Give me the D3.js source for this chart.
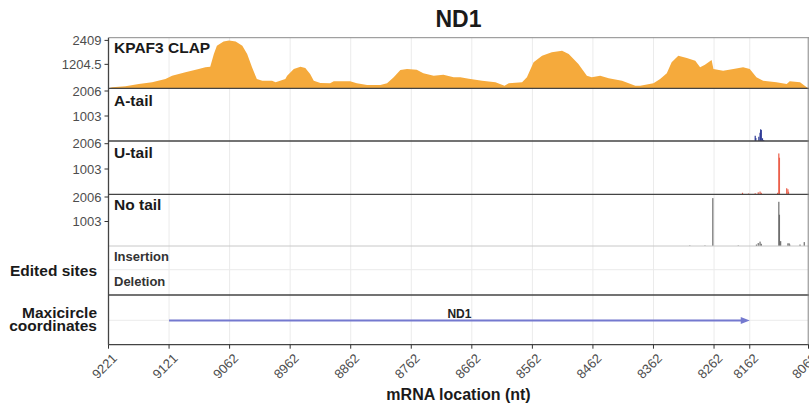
<!DOCTYPE html>
<html>
<head>
<meta charset="utf-8">
<script src="https://cdn.jsdelivr.net/npm/d3@7"></script>
<style>
  html, body { margin: 0; padding: 0; background: #fff; }
  svg { display: block; font-family: "Liberation Sans", Arial, Helvetica, sans-serif; }
</style>
</head>
<body>
<svg id="chart" width="809" height="409"></svg>
<script>
// ---- data -------------------------------------------------------------
// x positions along the transcript (nt) and the maxicircle coordinates shown for them
const xTickPos = [0, 100, 200, 300, 400, 500, 600, 700, 800, 900, 1000, 1059, 1156];
const xTickLabels = ["9221", "9121", "9062", "8962", "8862", "8762", "8662", "8562",
                     "8462", "8362", "8262", "8162", "8062"];

// KPAF3 CLAP read coverage
const clapPos = [0, 6, 28, 50, 72, 94, 105, 127, 149, 160, 168, 174, 179, 190, 199, 210, 221,
  229, 237, 245, 254, 270, 276, 292, 295, 306, 317, 325, 333, 339, 350, 366, 372, 399, 410,
  427, 449, 460, 471, 482, 493, 509, 520, 537, 553, 570, 581, 595, 617, 639, 654, 661, 683,
  691, 702, 716, 732, 749, 760, 776, 790, 798, 812, 826, 848, 870, 878, 900, 911, 922, 930,
  941, 955, 969, 977, 985, 996, 999, 1015, 1032, 1048, 1059, 1070, 1081, 1103, 1120, 1125,
  1142, 1153, 1156];
const clapVal = [0, 50, 100, 216, 301, 467, 632, 803, 969, 1054, 1084, 1722, 2138, 2359, 2409,
  2359, 2138, 1722, 1054, 467, 381, 381, 301, 467, 632, 969, 1084, 1019, 718, 381, 266, 251,
  351, 351, 251, 166, 166, 251, 552, 918, 969, 934, 753, 632, 683, 552, 552, 482, 381, 301,
  130, 251, 301, 552, 1305, 1636, 1807, 1887, 1722, 1220, 632, 552, 632, 502, 381, 130, 130,
  251, 467, 753, 1305, 1636, 1521, 1385, 1054, 1184, 1420, 969, 883, 969, 1054, 969, 552, 381,
  301, 216, 351, 301, 50, 0];

// tailed read ends
const aTailPos = [1068, 1069, 1074, 1076, 1077, 1078, 1080, 1082];
const aTailVal = [210, 120, 170, 330, 470, 440, 110, 40];

const uTailPos = [1047, 1057, 1068, 1073, 1076, 1078, 1105, 1107, 1108, 1120, 1122, 1123];
const uTailVal = [60, 30, 40, 80, 110, 60, 60, 1620, 1450, 240, 200, 100];

const noTailPos = [960, 985, 998, 1040, 1070, 1073, 1076, 1078, 1107, 1108, 1110, 1122, 1124, 1125, 1142, 1149];
const noTailVal = [20, 20, 1960, 20, 60, 120, 180, 90, 1810, 1280, 200, 110, 110, 60, 60, 160];

// ND1 gene on the maxicircle
const geneName = "ND1";
const geneStart = 100;
const geneEnd = 1059;

// track labels and their y-axis maxima
const trackNames = ["KPAF3 CLAP", "A-tail", "U-tail", "No tail"];
const trackMax = [2409, 2006, 2006, 2006];
const trackTicks = [[2409, 1204.5], [2006, 1003], [2006, 1003], [2006, 1003]];
const editRows = ["Insertion", "Deletion"];

// ---- layout -----------------------------------------------------------
const svg = d3.select("#chart");
const W = 809, H = 409;
const left = 108.5, right = 808.5;
const trackTop = [37.7, 88.3, 141, 194.3];
const trackBottom = [88.3, 141, 194.3, 246];
const editTop = 246, editBottom = 295;
const mapTop = 295, mapBottom = 344.7;
const pad = 2.7;

const x = d3.scaleLinear().domain([0, 1156]).range([left, right]);

const inkDark = "#444";
const gridCol = "#ebebeb";
const tickText = "#4d4d4d";

svg.append("rect").attr("width", W).attr("height", H).attr("fill", "#fff");

// vertical grid lines in every panel
const grid = svg.append("g");
grid.selectAll("line").data(xTickPos).join("line")
  .attr("x1", d => x(d)).attr("x2", d => x(d))
  .attr("y1", trackTop[0]).attr("y2", mapBottom)
  .attr("stroke", gridCol).attr("stroke-width", 1);

// horizontal grid lines in the edited-sites and maxicircle panels
svg.append("line").attr("x1", left).attr("x2", right)
  .attr("y1", (editTop + editBottom) / 2 - 0.8).attr("y2", (editTop + editBottom) / 2 - 0.8)
  .attr("stroke", gridCol);
svg.append("line").attr("x1", left).attr("x2", right)
  .attr("y1", 320.3).attr("y2", 320.3)
  .attr("stroke", gridCol);

// y scales per track
const yScales = trackMax.map((m, i) =>
  d3.scaleLinear().domain([0, m]).range([trackBottom[i], trackTop[i] + pad]));

// coverage area
const clapData = clapPos.map((p, i) => ({ p, v: clapVal[i] }));
const area = d3.area()
  .x(d => x(d.p))
  .y0(yScales[0](0))
  .y1(d => yScales[0](d.v));
svg.append("path").datum(clapData)
  .attr("d", area)
  .attr("fill", "#f5aa3c");

// tail read-end bars
function drawBars(pos, val, yScale, color) {
  const data = pos.map((p, i) => ({ p, v: val[i] }));
  svg.append("g").selectAll("rect").data(data).join("rect")
    .attr("x", d => x(d.p) - 0.6)
    .attr("width", d => Math.max(1.2, x(d.p + 1) - x(d.p)))
    .attr("y", d => yScale(d.v))
    .attr("height", d => yScale(0) - yScale(d.v))
    .attr("fill", color);
}
drawBars(aTailPos, aTailVal, yScales[1], "#2e3b96");
drawBars(uTailPos, uTailVal, yScales[2], "#ec5f4a");
drawBars(noTailPos, noTailVal, yScales[3], "#6e6e6e");

// panel separators and frame
const hLines = [
  { y: trackTop[0], c: "#8a8a8a", w: 1 },
  { y: trackBottom[0], c: inkDark, w: 1.3 },
  { y: trackBottom[1], c: inkDark, w: 1.3 },
  { y: trackBottom[2], c: inkDark, w: 1.3 },
  { y: trackBottom[3], c: "#c8c8c8", w: 1 },
  { y: editBottom, c: inkDark, w: 1.3 },
  { y: mapBottom, c: inkDark, w: 1.3 }
];
svg.append("g").selectAll("line").data(hLines).join("line")
  .attr("x1", left).attr("x2", right + 1)
  .attr("y1", d => d.y).attr("y2", d => d.y)
  .attr("stroke", d => d.c).attr("stroke-width", d => d.w);

svg.append("line").attr("x1", left).attr("x2", left)
  .attr("y1", trackTop[0]).attr("y2", mapBottom)
  .attr("stroke", inkDark).attr("stroke-width", 1.3);
svg.append("line").attr("x1", right - 0.3).attr("x2", right - 0.3)
  .attr("y1", trackTop[0]).attr("y2", mapBottom)
  .attr("stroke", "#8a8a8a").attr("stroke-width", 1);

// left y axes for each track
yScales.forEach((ys, i) => {
  const g = svg.append("g");
  g.selectAll("line").data(trackTicks[i]).join("line")
    .attr("x1", left - 4).attr("x2", left)
    .attr("y1", d => ys(d)).attr("y2", d => ys(d))
    .attr("stroke", "#333").attr("stroke-width", 1);
  g.selectAll("text").data(trackTicks[i]).join("text")
    .attr("x", left - 7).attr("y", d => ys(d))
    .attr("dy", "0.36em")
    .attr("text-anchor", "end")
    .attr("font-size", 13)
    .attr("fill", tickText)
    .text(d => d);
});

// track labels inside panels
const labelBase = [53, 106, 158.3, 210];
svg.append("g").selectAll("text").data(trackNames).join("text")
  .attr("x", 114).attr("y", (d, i) => labelBase[i])
  .attr("font-size", 15.5).attr("font-weight", "bold")
  .attr("fill", "#1a1a1a")
  .text(d => d);

// edited-sites row labels
svg.append("g").selectAll("text").data(editRows).join("text")
  .attr("x", 114).attr("y", (d, i) => [260.7, 286][i])
  .attr("font-size", 13).attr("font-weight", "bold")
  .attr("fill", "#333")
  .text(d => d);

// side labels
svg.append("text").attr("x", 97).attr("y", 275.5)
  .attr("text-anchor", "end").attr("font-size", 15.5).attr("font-weight", "bold")
  .attr("fill", "#1a1a1a").text("Edited sites");
svg.append("text").attr("x", 97).attr("y", 318)
  .attr("text-anchor", "end").attr("font-size", 15.5).attr("font-weight", "bold")
  .attr("fill", "#1a1a1a").text("Maxicircle");
svg.append("text").attr("x", 97).attr("y", 330.5)
  .attr("text-anchor", "end").attr("font-size", 15.5).attr("font-weight", "bold")
  .attr("fill", "#1a1a1a").text("coordinates");

// gene arrow
const geneY = 320.5;
const arrowCol = "#7479cf";
svg.append("line")
  .attr("x1", x(geneStart)).attr("x2", x(geneEnd) - 6)
  .attr("y1", geneY).attr("y2", geneY)
  .attr("stroke", arrowCol).attr("stroke-width", 1.8);
svg.append("path")
  .attr("d", `M${x(geneEnd)},${geneY} L${x(geneEnd) - 9},${geneY - 3.5} L${x(geneEnd) - 9},${geneY + 3.5} Z`)
  .attr("fill", arrowCol);
svg.append("text")
  .attr("x", (x(geneStart) + x(geneEnd)) / 2).attr("y", 318)
  .attr("text-anchor", "middle").attr("font-size", 12).attr("font-weight", "bold")
  .attr("fill", "#222").text(geneName);

// bottom x axis
const xAxis = svg.append("g");
xAxis.selectAll("line").data(xTickPos).join("line")
  .attr("x1", d => x(d)).attr("x2", d => x(d))
  .attr("y1", mapBottom).attr("y2", mapBottom + 4)
  .attr("stroke", "#333");
xAxis.selectAll("text").data(xTickPos).join("text")
  .attr("transform", d => `translate(${x(d) + 3},${mapBottom + 8}) rotate(-45)`)
  .attr("text-anchor", "end")
  .attr("dy", "0.7em")
  .attr("font-size", 13)
  .attr("fill", tickText)
  .text((d, i) => xTickLabels[i]);

svg.append("text")
  .attr("x", (left + right) / 2).attr("y", 400)
  .attr("text-anchor", "middle").attr("font-size", 16).attr("font-weight", "bold")
  .attr("fill", "#1a1a1a").text("mRNA location (nt)");

// title
svg.append("text")
  .attr("x", (left + right) / 2).attr("y", 27)
  .attr("text-anchor", "middle").attr("font-size", 23).attr("font-weight", "bold")
  .attr("fill", "#1a1a1a").text("ND1");
</script>
</body>
</html>
